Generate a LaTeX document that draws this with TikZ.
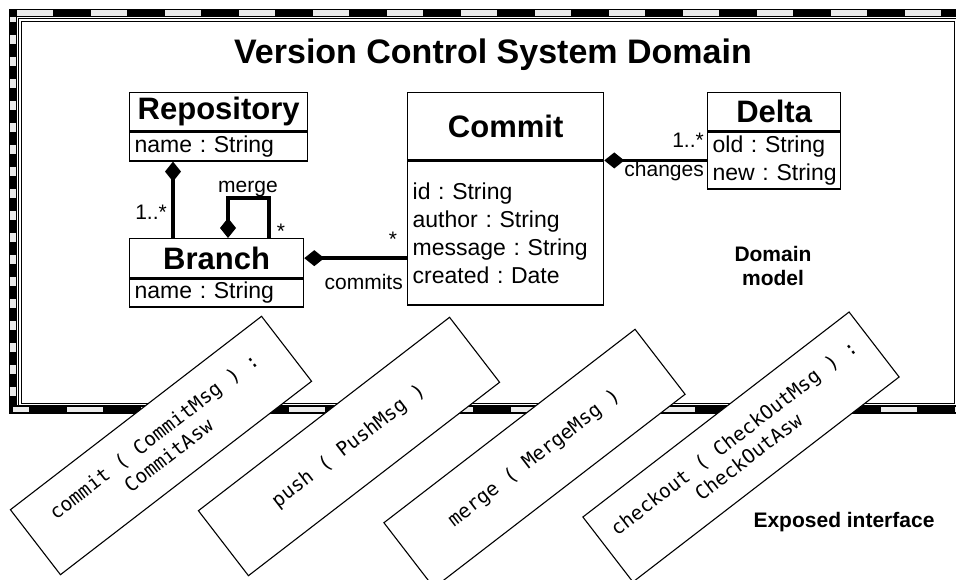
\documentclass[tikz,border=0pt]{standalone}
\usepackage{fontspec}
\setmainfont{Liberation Sans}
\newfontfamily\monofont{DejaVu Sans Mono}
\usetikzlibrary{arrows.meta}
\begin{document}
\begin{tikzpicture}[x=1pt,y=-1pt,
  cls/.style={draw,line width=1.3pt,fill=white,inner sep=0pt,anchor=north west,font=\fontsize{31}{36}\selectfont\bfseries},
  attrs/.style={draw,line width=1.3pt,fill=white,inner xsep=5pt,inner ysep=0pt,align=left,anchor=north west,font=\fontsize{23}{28}\selectfont},
  assoc/.style={line width=3.5pt},
  dmd/.style={{Diamond[length=20pt,width=16pt]}-},
  lbl/.style={inner sep=0pt,font=\fontsize{21}{25}\selectfont},
  mult/.style={inner sep=0pt,font=\fontsize{21}{25}\selectfont},
  iface/.style={draw,line width=1.1pt,fill=white,minimum height=82pt,rotate=37.6,align=center,font=\monofont\fontsize{19.5}{24}\selectfont},
  note/.style={align=center,font=\fontsize{21}{24}\selectfont\bfseries},
  band/.style={line width=8.5pt,line cap=butt},
  stripe/.style={white!92!black,line width=5.5pt,line cap=butt}
]
\useasboundingbox (0,0) rectangle (956,580);
\clip (0,0) rectangle (956,580);
% frame
\draw[band] (13,13) rectangle (962,409.5);
\draw[stripe,dash pattern=on 36pt off 38pt] (17,13) -- (962,13);
\draw[stripe,dash pattern=on 36pt off 38pt,dash phase=20pt] (13,409.5) -- (962,409.5);
\draw[stripe,dash pattern=on 9pt off 13pt,dash phase=4pt] (13,17) -- (13,405);
\draw[line width=0.9pt] (18.5,18.5) rectangle (957.5,406);
\draw[line width=0.9pt] (21.5,21.5) rectangle (954,403);
% title
\node[font=\fontsize{34}{40}\selectfont\bfseries] (title) at (493,55) {Version Control System Domain};
% classes
\node[cls,minimum width=178pt,minimum height=38pt] (repo) at (129,92) {Repository};
\node[attrs,text width=168pt,minimum height=29pt] (repoA) at (repo.south west) {name~:~String};
\node[cls,minimum width=174pt,minimum height=39pt] (branch) at (129,238) {Branch};
\node[attrs,text width=164pt,minimum height=28pt] (branchA) at (branch.south west) {name~:~String};
\node[cls,minimum width=196pt,minimum height=67pt] (commit) at (407,92) {Commit};
\node[attrs,text width=186pt,minimum height=144pt] (commitA) at (commit.south west) {id~:~String\\author~:~String\\message~:~String\\created~:~Date};
\node[cls,minimum width=133pt,minimum height=38pt] (delta) at (707,92) {Delta};
\node[attrs,text width=123pt,minimum height=57pt] (deltaA) at (delta.south west) {old~:~String\\new~:~String};
% associations
\draw[assoc,dmd] ([xshift=44pt]repoA.south west) -- ([xshift=44pt]branch.north west);
\draw[assoc,dmd] ([xshift=99pt]branch.north west) -- ++(0,-40) -| ([xshift=140pt]branch.north west);
\draw[assoc,dmd] (branch.east) -- (commitA.west |- branch.east);
\draw[assoc,dmd] (commit.south east |- deltaA.west) -- (deltaA.west);
% labels
\node[mult,anchor=base east] (mRB) at (167,220) {1..*};
\node[lbl,anchor=base] (lMerge) at (248,193) {merge};
\node[lbl,anchor=base] (mMerge) at (281,239) {*};
\node[lbl,anchor=base] (mCommits) at (393,247) {*};
\node[lbl,anchor=base east] (lCommits) at (403,290) {commits};
\node[mult,anchor=base east] (mChanges) at (704,148) {1..*};
\node[lbl,anchor=base east] (lChanges) at (704,177) {changes};
\node[note] (dm) at (773,266) {Domain\\model};
% interface
\node[iface,minimum width=317pt] (ifCommit) at (161,445.5) {commit ( CommitMsg ) :\\CommitAsw};
\node[iface,minimum width=317pt] (ifPush) at (349,446.5) {push ( PushMsg )};
\node[iface,minimum width=317pt] (ifMerge) at (534.5,458.5) {merge ( MergeMsg )};
\node[iface,minimum width=336pt] (ifCheckout) at (741,447) {checkout ( CheckOutMsg ) :\\CheckOutAsw};
\node[note] (ei) at (844,522) {Exposed interface};
\end{tikzpicture}
\end{document}
